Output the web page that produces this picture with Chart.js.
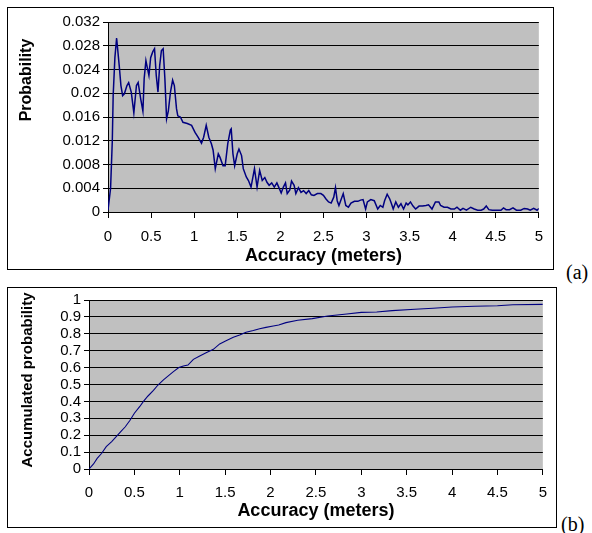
<!DOCTYPE html>
<html><head><meta charset="utf-8">
<script src="https://cdn.jsdelivr.net/npm/chart.js@4/dist/chart.umd.min.js"></script>
<style>
html,body{margin:0;padding:0;background:#fff;}
body{width:592px;height:533px;position:relative;overflow:hidden;}
.box{position:absolute;border:1px solid #000;box-sizing:border-box;background:#fff;}
.box canvas{position:absolute;left:0;top:0;}
.tag{position:absolute;font-family:"Liberation Serif","Times New Roman",serif;font-size:20px;line-height:20px;color:#000;}
</style></head><body>
<div class="box" style="left:7px;top:7px;width:547px;height:263px;"><canvas id="chartA" width="545" height="261"></canvas></div>
<div class="tag" style="left:566px;top:262px;">(a)</div>
<div class="box" style="left:7px;top:287px;width:550px;height:241px;"><canvas id="chartB" width="548" height="239"></canvas></div>
<div class="tag" style="left:561px;top:514px;">(b)</div>
<script>
// ---- Data ----
const accuracyA = [
  0,0.03,0.05,0.06,0.08,0.1,0.13,0.15,0.17,0.19,
  0.22,0.24,0.27,0.3,0.33,0.35,0.38,0.405,0.42,0.44,
  0.455,0.475,0.495,0.52,0.54,0.56,0.58,0.6,0.62,0.64,
  0.66,0.68,0.7,0.725,0.75,0.77,0.795,0.81,0.84,0.87,
  0.92,0.97,1.01,1.045,1.085,1.11,1.14,1.17,1.2,1.22,
  1.245,1.28,1.3,1.335,1.36,1.39,1.42,1.43,1.45,1.47,
  1.5,1.52,1.55,1.57,1.605,1.63,1.66,1.7,1.73,1.76,
  1.79,1.82,1.845,1.87,1.9,1.93,1.96,1.99,2.01,2.035,
  2.06,2.08,2.11,2.13,2.16,2.18,2.21,2.24,2.27,2.3,
  2.33,2.36,2.39,2.43,2.47,2.5,2.53,2.56,2.59,2.62,
  2.64,2.66,2.68,2.7,2.73,2.76,2.79,2.82,2.86,2.9,
  2.93,2.96,2.99,3.01,3.05,3.09,3.13,3.16,3.19,3.21,
  3.24,3.27,3.29,3.31,3.34,3.37,3.4,3.43,3.46,3.48,
  3.51,3.54,3.57,3.61,3.65,3.69,3.72,3.76,3.8,3.84,
  3.86,3.9,3.94,3.98,4.02,4.05,4.09,4.12,4.16,4.21,
  4.25,4.29,4.33,4.36,4.39,4.42,4.46,4.52,4.56,4.59,
  4.62,4.66,4.7,4.74,4.79,4.83,4.87,4.9,4.94,4.98,
  5
];
const probabilityA = [
  0.0003,0.004,0.012,0.0196,0.026,0.0293,0.0247,0.0213,0.0196,0.0199,
  0.0213,0.0218,0.0202,0.0167,0.0213,0.0218,0.019,0.017,0.0225,0.0255,
  0.0244,0.023,0.026,0.027,0.0275,0.023,0.0202,0.0247,0.0272,0.0275,
  0.0225,0.0157,0.017,0.0202,0.0222,0.0213,0.0174,0.0162,0.016,0.0151,
  0.0149,0.0146,0.0134,0.0126,0.0116,0.0126,0.0146,0.0126,0.0115,0.0104,
  0.0073,0.0098,0.0092,0.0078,0.0078,0.0115,0.0138,0.014,0.0098,0.0078,
  0.0098,0.0106,0.0095,0.0073,0.0059,0.0053,0.0042,0.0073,0.0042,0.007,
  0.0053,0.0058,0.005,0.0045,0.0049,0.0042,0.0049,0.0039,0.0032,0.0042,
  0.0049,0.0031,0.0037,0.0052,0.0045,0.0031,0.0041,0.0033,0.0036,0.0031,
  0.0036,0.0029,0.0028,0.0031,0.0031,0.0028,0.0022,0.0017,0.0015,0.0025,
  0.0041,0.0019,0.0011,0.0019,0.0031,0.0011,0.0008,0.0015,0.0018,0.0018,
  0.002,0.0021,0.0005,0.0017,0.0021,0.0019,0.0005,0.0011,0.0008,0.0019,
  0.003,0.0022,0.0014,0.0005,0.0017,0.0008,0.0014,0.0005,0.0015,0.0012,
  0.0017,0.001,0.0005,0.001,0.001,0.0011,0.0012,0.0005,0.0017,0.0017,
  0.0011,0.0008,0.0008,0.0005,0.0005,0.0008,0.0003,0.0006,0.0003,0.0008,
  0.0005,0.0003,0.0003,0.0005,0.001,0.0004,0.0003,0.0003,0.0003,0.0007,
  0.0004,0.0004,0.0007,0.0003,0.0003,0.0006,0.0005,0.0003,0.0006,0.0003,
  0.0006
];
const accuracyB = [
  0,0.05,0.09,0.14,0.19,0.25,0.3,0.35,0.4,0.45,
  0.5,0.56,0.6,0.65,0.71,0.76,0.82,0.87,0.93,0.99,
  1.04,1.09,1.15,1.22,1.29,1.37,1.44,1.51,1.59,1.66,
  1.73,1.81,1.88,1.95,2.03,2.09,2.17,2.3,2.46,2.63,
  2.84,3.0,3.17,3.34,3.59,3.79,4.0,4.25,4.5,4.67,
  5.0
];
const cumulativeB = [
  0,0.03,0.063,0.093,0.132,0.162,0.191,0.221,0.25,0.287,
  0.33,0.37,0.4,0.432,0.465,0.497,0.527,0.55,0.576,0.6,
  0.609,0.615,0.649,0.669,0.688,0.708,0.74,0.759,0.779,0.793,
  0.809,0.819,0.83,0.838,0.846,0.852,0.866,0.88,0.89,0.905,
  0.917,0.927,0.929,0.937,0.945,0.951,0.959,0.963,0.966,0.972,
  0.974
];
const xTickLabels = ['0','0.5','1','1.5','2','2.5','3','3.5','4','4.5','5'];
const yTickLabelsA = ['0','0.004','0.008','0.012','0.016','0.02','0.024','0.028','0.032'];
const yTickLabelsB = ['0','0.1','0.2','0.3','0.4','0.5','0.6','0.7','0.8','0.9','1'];
const xTitle = 'Accuracy (meters)';
const yTitleA = 'Probability';
const yTitleB = 'Accumulated probability';

// ---- Rendering ----
const FONT = '"Liberation Sans", Arial, Helvetica, sans-serif';
Chart.defaults.font.family = FONT;
Chart.defaults.color = '#000';

const panelPlugin = {
  id: 'panel',
  beforeDraw(chart, args, o) {
    const {ctx, chartArea: a} = chart;
    ctx.save();
    ctx.fillStyle = o.bg;
    ctx.fillRect(a.left, a.top, a.right - a.left, a.bottom - a.top);
    ctx.restore();
  },
  afterDraw(chart, args, o) {
    const ctx = chart.ctx;
    ctx.save();
    ctx.translate(o.yTitleX, o.yTitleY);
    ctx.rotate(-Math.PI / 2);
    ctx.font = 'bold ' + o.yTitleSize + 'px ' + FONT;
    ctx.fillStyle = '#000';
    ctx.textAlign = 'center';
    ctx.textBaseline = 'middle';
    ctx.fillText(o.yTitle, 0, 0);
    ctx.restore();
  }
};

function makeChart(id, xs, ys, yMax, yStep, yLabels, cfg) {
  return new Chart(document.getElementById(id), {
    type: 'line',
    data: {
      datasets: [{
        data: xs.map((x, i) => ({x: x, y: ys[i]})),
        borderColor: '#000080',
        borderWidth: cfg.lw,
        pointRadius: 0,
        tension: 0,
        fill: false
      }]
    },
    options: {
      responsive: false,
      animation: false,
      devicePixelRatio: 1,
      layout: {padding: {left: 0, top: cfg.padTop, right: cfg.padRight, bottom: 0}},
      plugins: {
        legend: {display: false},
        tooltip: {enabled: false},
        panel: {bg: '#C0C0C0', yTitle: cfg.yTitle, yTitleX: cfg.yTitleX, yTitleY: cfg.yTitleY, yTitleSize: cfg.yTitleSize}
      },
      scales: {
        x: {
          type: 'linear', min: 0, max: 5,
          afterFit: s => { s.height = cfg.xHeight; },
          ticks: {stepSize: 0.5, autoSkip: false, maxRotation: 0, padding: cfg.xTickPad,
                  font: {size: 15}, callback: (v, i) => xTickLabels[i]},
          grid: {drawOnChartArea: false, drawTicks: true, tickLength: 6, tickColor: '#000', tickWidth: 1},
          border: {display: true, color: '#000', width: 1},
          title: {display: true, text: xTitle, font: {size: 18, weight: 'bold'}, padding: {top: 0, bottom: cfg.xTitlePad}}
        },
        y: {
          type: 'linear', min: 0, max: yMax,
          afterFit: s => { s.width = cfg.yWidth; },
          ticks: {stepSize: yStep, autoSkip: false, padding: 3, font: {size: 15},
                  callback: (v, i) => yLabels[i]},
          grid: {color: '#000', lineWidth: 1, drawTicks: true, tickLength: 5, tickColor: '#000'},
          border: {display: true, color: '#000', width: 1}
        }
      }
    },
    plugins: [panelPlugin]
  });
}

makeChart('chartA', accuracyA, probabilityA, 0.032, 0.004, yTickLabelsA, {
  lw: 1.5, padTop: 14, padRight: 13, xHeight: 57, yWidth: 100, xTickPad: 10, xTitlePad: 2,
  yTitle: yTitleA, yTitleX: 19, yTitleY: 72, yTitleSize: 16
});
makeChart('chartB', accuracyB, cumulativeB, 1, 0.1, yTickLabelsB, {
  lw: 1.1, padTop: 12, padRight: 12, xHeight: 58, yWidth: 81, xTickPad: 9, xTitlePad: 5,
  yTitle: yTitleB, yTitleX: 20, yTitleY: 92, yTitleSize: 15
});
</script>
</body></html>
